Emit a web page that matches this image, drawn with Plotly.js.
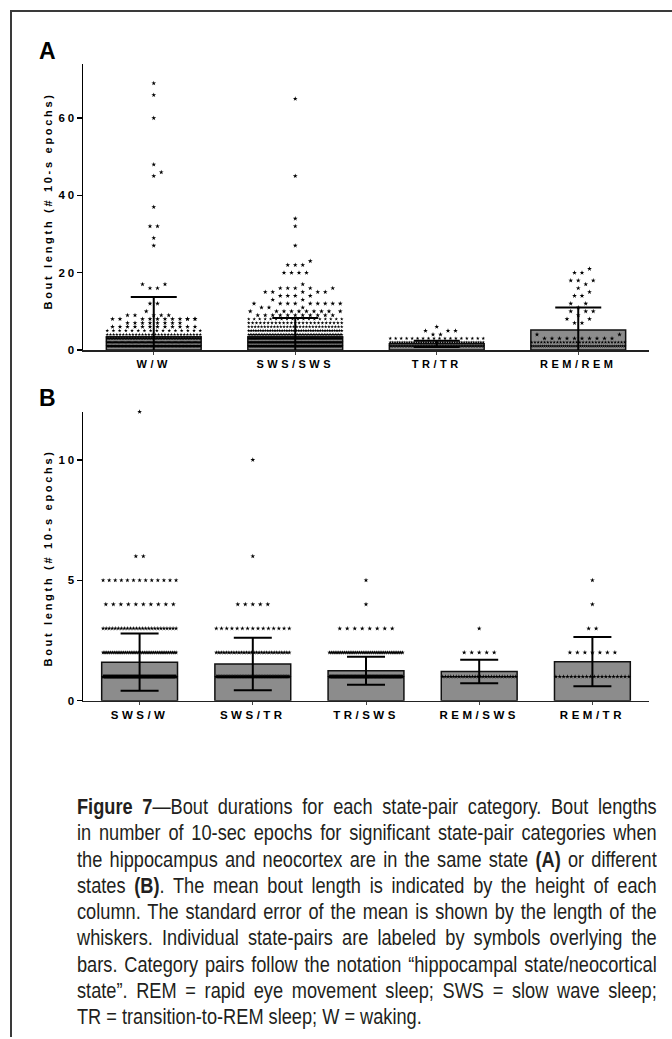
<!DOCTYPE html>
<html><head><meta charset="utf-8">
<script src="https://cdn.plot.ly/plotly-3.0.1.min.js"></script>
<style>
html,body{margin:0;padding:0;background:#fff;width:672px;height:1039px;overflow:hidden;position:relative;}
#frame{position:absolute;left:10px;top:10px;width:700px;height:1025px;border-top:2px solid #3a3a3a;border-left:2px solid #3a3a3a;}
#chart{position:absolute;left:0;top:0;width:672px;height:1039px;}
#caption{position:absolute;left:77px;top:794px;width:701px;transform:scaleX(0.827);transform-origin:0 0;
  font-family:"Liberation Sans",Arial,sans-serif;font-size:22px;line-height:26.3px;color:#231f20;}
#caption div{text-align:justify;text-align-last:justify;white-space:normal;}
#caption div.last{text-align-last:left;}
.xtick text,.x2tick text{letter-spacing:3.5px;}
.ytick text,.y2tick text{letter-spacing:3px;}
.annotation-text{letter-spacing:2.7px;}
</style></head>
<body>
<div id="frame"></div>
<div id="chart"></div>
<div id="caption">
<div><b>Figure 7</b>—Bout durations for each state-pair category. Bout lengths</div>
<div>in number of 10-sec epochs for significant state-pair categories when</div>
<div>the hippocampus and neocortex are in the same state <b>(A)</b> or different</div>
<div>states <b>(B)</b>. The mean bout length is indicated by the height of each</div>
<div>column. The standard error of the mean is shown by the length of the</div>
<div>whiskers. Individual state-pairs are labeled by symbols overlying the</div>
<div>bars. Category pairs follow the notation “hippocampal state/neocortical</div>
<div>state”. REM = rapid eye movement sleep; SWS = slow wave sleep;</div>
<div class="last">TR = transition-to-REM sleep; W = waking.</div>
</div>
<script>
// ---------- DATA ----------
const catsA = ['W/W', 'SWS/SWS', 'TR/TR', 'REM/REM'];
const meanA = [3.4, 3.4, 1.6, 5.2];
const errA  = [10.3, 4.9, 0.8, 5.8];
const ticksA = [0, 20, 40, 60];

const catsB = ['SWS/W', 'SWS/TR', 'TR/SWS', 'REM/SWS', 'REM/TR'];
const meanB = [1.6, 1.52, 1.24, 1.21, 1.62];
const errB  = [1.19, 1.09, 0.58, 0.49, 1.02];
const ticksB = [0, 5, 10];

// individual bouts: [bout length, number of bouts]
const distWW = [[1,120],[2,80],[3,60],[4,30],[5,16],[6,12],[7,8],[8,12],[9,5],[10,1],[12,2],[16,2],[17,2],[27,1],[29,1],[32,2],[37,1],[45,1],[46,1],[48,1],[60,1],[66,1],[69,1]];
const distSWSSWS = [[1,150],[2,120],[3,90],[4,60],[5,40],[6,30],[7,25],[8,18],[9,11],[10,10],[11,3],[12,9],[13,2],[14,4],[15,5],[16,5],[17,1],[20,4],[22,3],[23,1],[27,1],[32,1],[34,1],[45,1],[65,1]];
const distTRTR = [[1,60],[2,40],[3,18],[4,2],[5,3],[6,1]];
const distREMREM = [[1,45],[2,30],[3,10],[4,2],[7,2],[8,2],[9,1],[10,3],[11,1],[12,2],[14,2],[15,1],[16,1],[17,1],[18,3],[20,2],[21,1]];

const distSWSW = [[1,230],[2,40],[3,25],[4,10],[5,13],[6,2],[12,1]];
const distSWSTR = [[1,120],[2,30],[3,15],[4,5],[6,1],[10,1]];
const distTRSWS = [[1,200],[2,40],[3,8],[4,1],[5,1]];
const distREMSWS = [[1,28],[2,5],[3,1]];
const distREMTR = [[1,20],[2,7],[3,2],[4,1],[5,1]];

const distsA = [distWW, distSWSSWS, distTRTR, distREMREM];
const distsB = [distSWSW, distSWSTR, distTRSWS, distREMSWS, distREMTR];

// ---------- LAYOUT CONSTANTS ----------
const W = 672, H = 1039;
const xL = 83, xR = 649;
const yA = [64, 350], yB = [411.7, 700.7];
const rangeA = [0, 74], rangeB = [0, 12];
const FONT = 'Liberation Sans, Arial, sans-serif';

// column-scatter layout computed from the counts
function swarm(dists, pxX, pxY, maxW, s, d) {
  const sp = { xs: [], ys: [] }, dn = { xs: [], ys: [] };
  dists.forEach((dist, ci) => {
    const placed = [];
    const sorted = dist.slice().sort((a, b) => a[0] - b[0]);
    for (const [v, n] of sorted) {
      const yp = v * pxY;
      const natural = (n - 1) * s;
      if (natural > maxW) {
        const step = maxW / (n - 1);
        for (let i = 0; i < n; i++) { dn.xs.push(ci + (-maxW / 2 + i * step) / pxX); dn.ys.push(v); }
        continue;
      }
      const offs = [];
      for (let i = 0; i < n; i++) offs.push(-natural / 2 + i * s);
      const collides = o => placed.some(p => (p[0] - o) ** 2 + (p[1] - yp) ** 2 < d * d);
      let rowOffs = [];
      if (offs.every(o => !collides(o))) rowOffs = offs;
      else {
        for (let i = 0; i < n; i++) {
          let chosen = null;
          for (let k = 0; k * s / 2 <= maxW / 2 + 0.01; k++) {
            const cands = k === 0 ? [0] : [k * s / 2, -k * s / 2];
            for (const c of cands) {
              if (!collides(c) && !rowOffs.some(r => Math.abs(r - c) < d)) { chosen = c; break; }
            }
            if (chosen !== null) break;
          }
          if (chosen === null) chosen = offs[i];
          rowOffs.push(chosen);
        }
      }
      for (const o of rowOffs) { placed.push([o, yp]); sp.xs.push(ci + o / pxX); sp.ys.push(v); }
    }
  });
  return { sp, dn };
}

const pxXA = (xR - xL) / catsA.length, pxYA = (yA[1] - yA[0]) / (rangeA[1] - rangeA[0]);
const pxXB = (xR - xL) / catsB.length, pxYB = (yB[1] - yB[0]) / (rangeB[1] - rangeB[0]);
const swA = swarm(distsA, pxXA, pxYA, 93, 7.5, 5.5);
const swB = swarm(distsB, pxXB, pxYB, 73, 7.5, 5.5);

const idxA = catsA.map((_, i) => i), idxB = catsB.map((_, i) => i);
const barStyle = { color: '#8c8c8c', line: { color: '#111', width: 1.5 } };
const star = sz => ({ symbol: 'star', size: sz, color: '#000', line: { width: 0 } });
const common = { hoverinfo: 'skip' };

const traces = [
  { type: 'bar', x: idxA, y: meanA, width: 0.67, marker: barStyle, xaxis: 'x', yaxis: 'y', ...common },
  { type: 'scatter', mode: 'markers', x: swA.dn.xs, y: swA.dn.ys, marker: star(2.7), cliponaxis: false, xaxis: 'x', yaxis: 'y', ...common },
  { type: 'scatter', mode: 'markers', x: swA.sp.xs, y: swA.sp.ys, marker: star(3.6), cliponaxis: false, xaxis: 'x', yaxis: 'y', ...common },
  { type: 'scatter', mode: 'markers', x: idxA, y: meanA, marker: { size: 1, opacity: 0 },
    error_y: { type: 'data', array: errA, color: '#000', thickness: 2, width: 23 }, xaxis: 'x', yaxis: 'y', ...common },
  { type: 'bar', x: idxB, y: meanB, width: 0.67, marker: barStyle, xaxis: 'x2', yaxis: 'y2', ...common },
  { type: 'scatter', mode: 'markers', x: swB.dn.xs, y: swB.dn.ys, marker: star(3.4), cliponaxis: false, xaxis: 'x2', yaxis: 'y2', ...common },
  { type: 'scatter', mode: 'markers', x: swB.sp.xs, y: swB.sp.ys, marker: star(3.6), cliponaxis: false, xaxis: 'x2', yaxis: 'y2', ...common },
  { type: 'scatter', mode: 'markers', x: idxB, y: meanB, marker: { size: 1, opacity: 0 },
    error_y: { type: 'data', array: errB, color: '#000', thickness: 2, width: 19 }, xaxis: 'x2', yaxis: 'y2', ...common }
];

function xAxis(cats, anchor, fs) {
  return {
    domain: [xL / W, xR / W], anchor: anchor, range: [-0.5, cats.length - 0.5],
    tickvals: cats.map((_, i) => i), ticktext: cats,
    tickfont: { family: FONT, size: fs, color: '#000', weight: 'bold' },
    showline: true, linecolor: '#222', linewidth: 1.5, showgrid: false, zeroline: false,
    ticks: 'outside', ticklen: 3, tickwidth: 1, tickcolor: '#444', fixedrange: true
  };
}
function yAxis(py, range, tv, anchor) {
  return {
    domain: [1 - py[1] / H, 1 - py[0] / H], anchor: anchor, range: range,
    tickvals: tv, tickfont: { family: FONT, size: 11.5, color: '#000', weight: 'bold' },
    showline: true, linecolor: '#000', linewidth: 1.5, showgrid: false, zeroline: false,
    ticks: 'outside', ticklen: 5, tickwidth: 1.5, tickcolor: '#000', fixedrange: true,
    ticklabelstandoff: -3
  };
}
const titleText = 'Bout length (# 10-s epochs)';
const titleFont = { family: FONT, size: 11, color: '#000', weight: 'bold' };
const panelFont = { family: FONT, size: 23, color: '#000', weight: 'bold' };
const layout = {
  width: W, height: H, margin: { l: 0, r: 0, t: 0, b: 0 },
  paper_bgcolor: 'rgba(0,0,0,0)', plot_bgcolor: 'rgba(0,0,0,0)',
  showlegend: false, bargap: 0,
  xaxis: xAxis(catsA, 'y', 11), yaxis: yAxis(yA, rangeA, ticksA, 'x'),
  xaxis2: xAxis(catsB, 'y2', 11.5), yaxis2: yAxis(yB, rangeB, ticksB, 'x2'),
  annotations: [
    { text: 'A', x: 48 / W, y: 1 - 51 / H, xref: 'paper', yref: 'paper', showarrow: false, xanchor: 'center', yanchor: 'middle', font: panelFont },
    { text: 'B', x: 48 / W, y: 1 - 398 / H, xref: 'paper', yref: 'paper', showarrow: false, xanchor: 'center', yanchor: 'middle', font: panelFont },
    { text: titleText, x: 47.5 / W, y: 1 - 201 / H, xref: 'paper', yref: 'paper', showarrow: false, textangle: -90,
      xanchor: 'center', yanchor: 'middle', font: titleFont },
    { text: titleText, x: 47.5 / W, y: 1 - 558 / H, xref: 'paper', yref: 'paper', showarrow: false, textangle: -90,
      xanchor: 'center', yanchor: 'middle', font: titleFont }
  ]
};
Plotly.newPlot('chart', traces, layout, { staticPlot: true, displayModeBar: false });
</script>
</body></html>
